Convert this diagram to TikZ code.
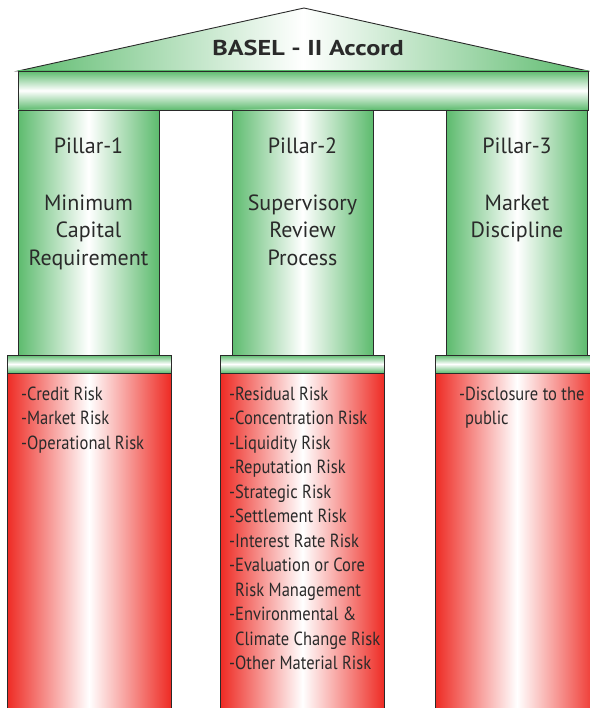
\documentclass[tikz,border=0pt]{standalone}
\usepackage{fontspec}
\setmainfont{PT Sans}
\newfontfamily\narrowfont[FakeStretch=0.87]{PT Sans}
\newfontfamily\widefont[FakeStretch=1.22]{PT Sans}
\usetikzlibrary{positioning}
\definecolor{basgreen}{HTML}{5DBB6E}
\definecolor{basred}{HTML}{EE2B24}
\definecolor{inkgray}{HTML}{2A2A2A}

\begin{document}
\begin{tikzpicture}[x=1pt, y=-1pt,
  edge/.style={draw=inkgray, line width=0.9pt},
  column/.style={edge, left color=basgreen, right color=basgreen, middle color=white,
                 minimum width=141pt, minimum height=245pt, inner sep=0pt},
  capband/.style={edge, top color=basgreen, bottom color=basgreen, middle color=white,
                  minimum width=164pt, minimum height=18pt, inner sep=0pt},
  riskbox/.style={edge, left color=basred, right color=basred, middle color=white,
                  minimum width=164pt, minimum height=340pt, inner sep=0pt},
  head/.style={font=\fontsize{22}{27.5}\selectfont, text=inkgray, align=center,
               anchor=north, inner sep=0pt},
  items/.style={font=\narrowfont\fontsize{19}{24.5}\selectfont, text=inkgray, align=left,
                anchor=north west, inner sep=0pt}
]
\useasboundingbox (0,0) rectangle (589,708);

% roof and beam
\path[edge, left color=basgreen, right color=basgreen, middle color=white]
  (18,71) -- (304,8) -- (588,71) -- cycle;
\node[edge, top color=basgreen, bottom color=basgreen, middle color=white,
      minimum width=570pt, minimum height=39pt, inner sep=0pt] (beam) at (303,90.5) {};
\node[font=\widefont\bfseries\fontsize{21.5}{25}\selectfont, text=inkgray] (title) at (308,47.5)
  {BASEL - II Accord};

% pillars
\node[column] (col1) at (88.5,232.5) {};
\node[column] (col2) at (302.5,232.5) {};
\node[column] (col3) at (517,232.5) {};

% bases
\node[capband] (cap1) at (89,364) {};
\node[capband] (cap2) at (302.5,364) {};
\node[capband] (cap3) at (517,364) {};
\node[riskbox] (box1) at (89,543) {};
\node[riskbox] (box2) at (302.5,543) {};
\node[riskbox] (box3) at (517,543) {};

% pillar headings
\node[head] (name1) at (88.5,137.5) {Pillar-1};
\node[head] (name2) at (302.5,137.5) {Pillar-2};
\node[head] (name3) at (517,137.5) {Pillar-3};
\node[head] (desc1) at (88.5,194.5) {Minimum\\Capital\\Requirement};
\node[head] (desc2) at (302.5,194.5) {Supervisory\\Review\\Process};
\node[head] (desc3) at (517,194.5) {Market\\Discipline};

% risk lists
\node[items] (list1) at (21,386.5) {-Credit Risk\\-Market Risk\\-Operational Risk};
\node[items] (list2) at (229,386.5) {-Residual Risk\\-Concentration Risk\\-Liquidity Risk\\
  -Reputation Risk\\-Strategic Risk\\-Settlement Risk\\-Interest Rate Risk\\
  -Evaluation or Core\\\phantom{-}Risk Management\\-Environmental \&\\
  \phantom{-}Climate Change Risk\\-Other Material Risk};
\node[items] (list3) at (459,386.5) {-Disclosure to the\\\phantom{-}public};
\end{tikzpicture}
\end{document}
